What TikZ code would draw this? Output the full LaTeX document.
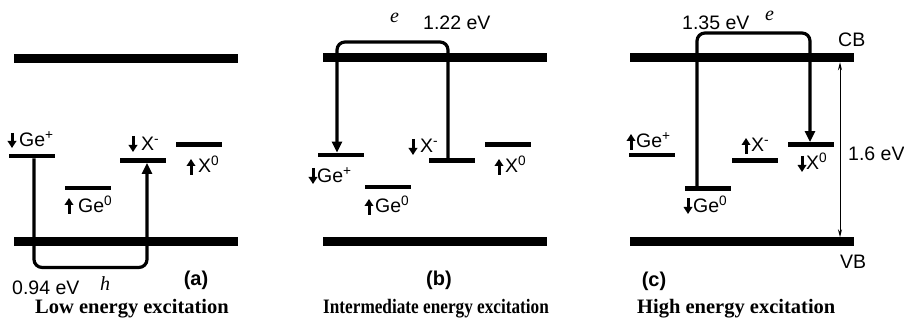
\documentclass[tikz,border=0pt]{standalone}
\usepackage{fontspec}
\setmainfont{Liberation Serif}
\setsansfont{Liberation Sans}
\usetikzlibrary{arrows.meta}
\begin{document}
\begin{tikzpicture}[x=1pt,y=-1pt,
  band/.style={fill=black, inner sep=0pt, minimum width=224pt, minimum height=9pt},
  lev/.style={fill=black, inner sep=0pt, minimum width=46pt, minimum height=4.5pt},
  trans/.style={line width=3.2pt, rounded corners=8pt, -{Triangle[length=11pt,width=10pt]}},
  spin/.style={line width=3pt, -{Triangle[length=7pt,width=8.5pt]}},
  lbl/.style={font=\fontsize{19.5}{19.5}\selectfont\sffamily, inner sep=0pt, anchor=base west},
  ital/.style={font=\fontsize{20}{20}\selectfont\itshape, inner sep=0pt, anchor=base west},
  panel/.style={font=\fontsize{20}{20}\selectfont\sffamily\bfseries, inner sep=0pt},
  capt/.style={font=\fontsize{20.5}{20.5}\selectfont\rmfamily\bfseries, inner sep=0pt, anchor=base west}]
\useasboundingbox (0,0) rectangle (904,320);

% ---------- panel (a)
\node[band] (cbA) at (126,58.5) {};
\node[band] (vbA) at (126,242) {};
\node[lev] (gpA) at (32,156) {};
\node[lev] (gzA) at (88,188) {};
\node[lev] (xmA) at (143,160.5) {};
\node[lev] (xzA) at (199,144.5) {};
\draw[spin] (12,133) -- (12,148);
\node[lbl] (tgpA) at (19,147) {Ge\textsuperscript{+}};
\draw[spin] (69,214) -- (69,198);
\node[lbl] (tgzA) at (78,213) {Ge\textsuperscript{0}};
\draw[spin] (133,136) -- (133,152);
\node[lbl] (txmA) at (141,151) {X\textsuperscript{-}};
\draw[spin] (191,175) -- (191,159);
\node[lbl] (txzA) at (198,173) {X\textsuperscript{0}};
\draw[trans] ([xshift=2pt]gpA.south) -- ++(0,109) -| ([xshift=4pt]xmA.south);
\node[lbl] (eA) at (12,294) {0.94 eV};
\node[ital] (hA) at (100,290) {h};
\node[panel] (pA) at (196,280) {(a)};
\node[capt] (cA) at (35,313) {Low energy excitation};

% ---------- panel (b)
\node[band] (cbB) at (435,57.5) {};
\node[band] (vbB) at (435,242) {};
\node[lev] (gpB) at (340.5,155) {};
\node[lev] (gzB) at (388,187) {};
\node[lev] (xmB) at (451.5,160.5) {};
\node[lev] (xzB) at (508,144.5) {};
\draw[spin] (313,168) -- (313,184);
\node[lbl] (tgpB) at (317,183) {Ge\textsuperscript{+}};
\draw[spin] (369,215) -- (369,199);
\node[lbl] (tgzB) at (375,213) {Ge\textsuperscript{0}};
\draw[spin] (413,139) -- (413,155);
\node[lbl] (txmB) at (420,153) {X\textsuperscript{-}};
\draw[spin] (499,175) -- (499,159);
\node[lbl] (txzB) at (505,173) {X\textsuperscript{0}};
\draw[trans] ([xshift=-3.5pt]xmB.north) -- ([xshift=-3.5pt]xmB.north |- 0,42) -| ([xshift=-3.5pt]gpB.north);
\node[ital] (eB) at (390,23) {e};
\node[lbl] (vB) at (423,30) {1.22 eV};
\node[panel] (pB) at (439,280) {(b)};
\node[capt] (cB) at (323,313) {\scalebox{0.84}[1]{Intermediate energy excitation}};

% ---------- panel (c)
\node[band] (cbC) at (742,57.5) {};
\node[band] (vbC) at (742,242) {};
\node[lev] (gpC) at (652,155) {};
\node[lev] (gzC) at (708,188.5) {};
\node[lev] (xmC) at (755,160.5) {};
\node[lev] (xzC) at (811,144.5) {};
\draw[spin] (631,150) -- (631,134);
\node[lbl] (tgpC) at (636,148) {Ge\textsuperscript{+}};
\draw[spin] (688,198) -- (688,214);
\node[lbl] (tgzC) at (693,213) {Ge\textsuperscript{0}};
\draw[spin] (746,154) -- (746,138);
\node[lbl] (txmC) at (751,152) {X\textsuperscript{-}};
\draw[spin] (802,156) -- (802,172);
\node[lbl] (txzC) at (806,170) {X\textsuperscript{0}};
\draw[trans] ([xshift=-11pt]gzC.north) -- ([xshift=-11pt]gzC.north |- 0,33) -| ([xshift=-1pt]xzC.north);
\node[lbl] (vC) at (682,30) {1.35 eV};
\node[ital] (eC) at (765,21) {e};
\node[lbl] (cbT) at (838,47) {CB};
\node[lbl] (vbT) at (840,268) {VB};
\draw[line width=1pt, {Stealth[length=8pt,width=4pt]}-{Stealth[length=8pt,width=4pt]}] ([xshift=98pt]cbC.south) -- ([xshift=98pt]vbC.north);
\node[lbl] (gap) at (848,161) {1.6 eV};
\node[panel] (pC) at (654,281) {(c)};
\node[capt] (cC) at (637,313) {High energy excitation};
\end{tikzpicture}
\end{document}
